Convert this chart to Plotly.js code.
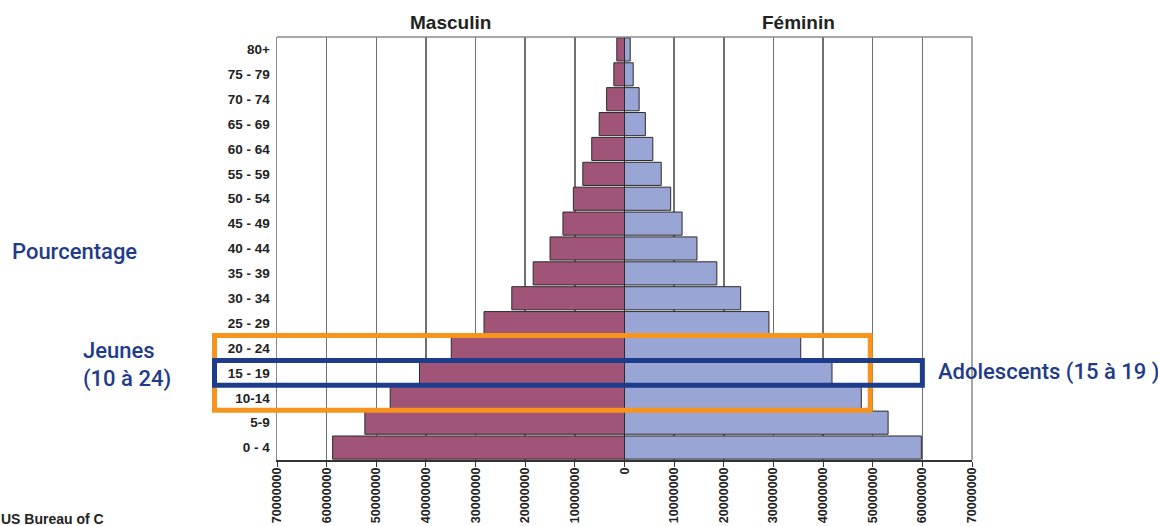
<!DOCTYPE html>
<html>
<head>
<meta charset="utf-8">
<script src="https://cdn.plot.ly/plotly-3.0.1.min.js"></script>
<style>
  html, body { margin: 0; padding: 0; background: #ffffff; }
  #chart { width: 1158px; height: 526px; }
</style>
</head>
<body>
<div id="chart"></div>
<script>
// Age groups, youngest at the bottom
const ageGroups = ['0 - 4', '5-9', '10-14', '15 - 19', '20 - 24', '25 - 29', '30 - 34', '35 - 39',
  '40 - 44', '45 - 49', '50 - 54', '55 - 59', '60 - 64', '65 - 69', '70 - 74', '75 - 79', '80+'];

// Population by age group
const male = [58800000, 52300000, 47200000, 41300000, 34900000, 28300000, 22700000, 18400000,
  15000000, 12400000, 10300000, 8400000, 6600000, 5100000, 3600000, 2150000, 1550000];
const female = [59800000, 53100000, 47700000, 41800000, 35500000, 29100000, 23400000, 18600000,
  14600000, 11600000, 9300000, 7400000, 5700000, 4200000, 2950000, 1750000, 1150000];

// Horizontal axis ticks (absolute values on both sides)
const xTickValues = [-70000000, -60000000, -50000000, -40000000, -30000000, -20000000, -10000000, 0,
  10000000, 20000000, 30000000, 40000000, 50000000, 60000000, 70000000];
const xTickLabels = ['70000000', '60000000', '50000000', '40000000', '30000000', '20000000', '10000000', '0',
  '10000000', '20000000', '30000000', '40000000', '50000000', '60000000', '70000000'];

// Plot area geometry in page pixels
const W = 1158, H = 526;
const M = { l: 277, r: 186, t: 37, b: 66 };
const plotW = W - M.l - M.r, plotH = H - M.t - M.b;
const px = x => (x - M.l) / plotW;        // page x -> paper x
const py = y => (H - M.b - y) / plotH;    // page y -> paper y
const xMax = 70000000;
const vx = v => (v + xMax) / (2 * xMax);  // axis value -> paper x
const nCat = ageGroups.length;

const tickFont = { family: 'Liberation Sans, Arial, sans-serif', size: 13.5, color: '#222222', weight: 'bold' };
const blueText = '#1F3C8A';
const noteFont = { family: 'Roboto, sans-serif', size: 22, color: blueText, weight: 500 };

const traces = [
  {
    type: 'bar', orientation: 'h', name: 'Masculin',
    y: ageGroups, x: male.map(v => -v),
    marker: { color: '#A05478', line: { color: '#2b2b2b', width: 1 } },
    hoverinfo: 'skip'
  },
  {
    type: 'bar', orientation: 'h', name: 'Féminin',
    y: ageGroups, x: female,
    marker: { color: '#99A5D4', line: { color: '#2b2b2b', width: 1 } },
    hoverinfo: 'skip'
  }
];

const layout = {
  width: W, height: H,
  margin: M,
  paper_bgcolor: '#ffffff', plot_bgcolor: '#ffffff',
  showlegend: false,
  barmode: 'overlay',
  bargap: 0.07,
  xaxis: {
    range: [-xMax, xMax],
    tickmode: 'array', tickvals: xTickValues, ticktext: xTickLabels,
    tickangle: -90,
    tickfont: Object.assign({}, tickFont, { size: 12.5 }),
    ticks: 'outside', ticklen: 5, tickcolor: '#333333', tickwidth: 1,
    ticklabelstandoff: -4,
    showline: true, linecolor: '#333333', linewidth: 1.5,
    showgrid: true, gridcolor: '#707070', gridwidth: 1.5,
    zeroline: true, zerolinecolor: '#222222', zerolinewidth: 1.5,
    automargin: false, fixedrange: true
  },
  yaxis: {
    type: 'category',
    categoryorder: 'array', categoryarray: ageGroups,
    tickfont: tickFont,
    ticks: '', ticklabelstandoff: 3,
    showline: true, linecolor: '#8a8a8a', linewidth: 1.5,
    showgrid: false, zeroline: false,
    automargin: false, fixedrange: true
  },
  shapes: [
    // top and right borders of the plot area
    { type: 'line', xref: 'paper', yref: 'paper', x0: 0, x1: 1, y0: 1, y1: 1,
      line: { color: '#8a8a8a', width: 1.5 } },
    { type: 'line', xref: 'paper', yref: 'paper', x0: 1, x1: 1, y0: 0, y1: 1,
      line: { color: '#8a8a8a', width: 1.5 } },
    // young people 10-24
    { type: 'rect', xref: 'paper', yref: 'paper',
      x0: px(214.5), x1: vx(49500000), y0: 2 / nCat, y1: 5 / nCat,
      line: { color: '#F7941D', width: 5 }, fillcolor: 'rgba(0,0,0,0)' },
    // adolescents 15-19
    { type: 'rect', xref: 'paper', yref: 'paper',
      x0: px(214.5), x1: vx(60000000), y0: 3 / nCat, y1: 4 / nCat,
      line: { color: '#1E3C8C', width: 5 }, fillcolor: 'rgba(0,0,0,0)' }
  ],
  annotations: [
    { text: 'Masculin', xref: 'x', yref: 'paper', x: -35000000, y: py(22), xanchor: 'center', yanchor: 'middle',
      showarrow: false, font: { family: 'Liberation Sans, Arial, sans-serif', size: 19, color: '#222222', weight: 'bold' } },
    { text: 'Féminin', xref: 'x', yref: 'paper', x: 35000000, y: py(22), xanchor: 'center', yanchor: 'middle',
      showarrow: false, font: { family: 'Liberation Sans, Arial, sans-serif', size: 19, color: '#222222', weight: 'bold' } },
    { text: 'Pourcentage', xref: 'paper', yref: 'paper', x: px(10), y: py(251), xanchor: 'left', yanchor: 'middle',
      showarrow: false, font: noteFont },
    { text: 'Jeunes', xref: 'paper', yref: 'paper', x: px(81), y: py(350), xanchor: 'left', yanchor: 'middle',
      showarrow: false, font: noteFont },
    { text: '(10 à 24)', xref: 'paper', yref: 'paper', x: px(81), y: py(379), xanchor: 'left', yanchor: 'middle',
      showarrow: false, font: noteFont },
    { text: 'Adolescents (15 à 19 )', xref: 'paper', yref: 'paper', x: px(936), y: py(372), xanchor: 'left', yanchor: 'middle',
      showarrow: false, font: noteFont },
    { text: 'US Bureau of C', xref: 'paper', yref: 'paper', x: px(-1), y: py(519), xanchor: 'left', yanchor: 'middle',
      showarrow: false, font: { family: 'Liberation Sans, Arial, sans-serif', size: 14, color: '#222222', weight: 'bold' } }
  ]
};

Plotly.newPlot('chart', traces, layout, { displayModeBar: false, staticPlot: true });
</script>
</body>
</html>
